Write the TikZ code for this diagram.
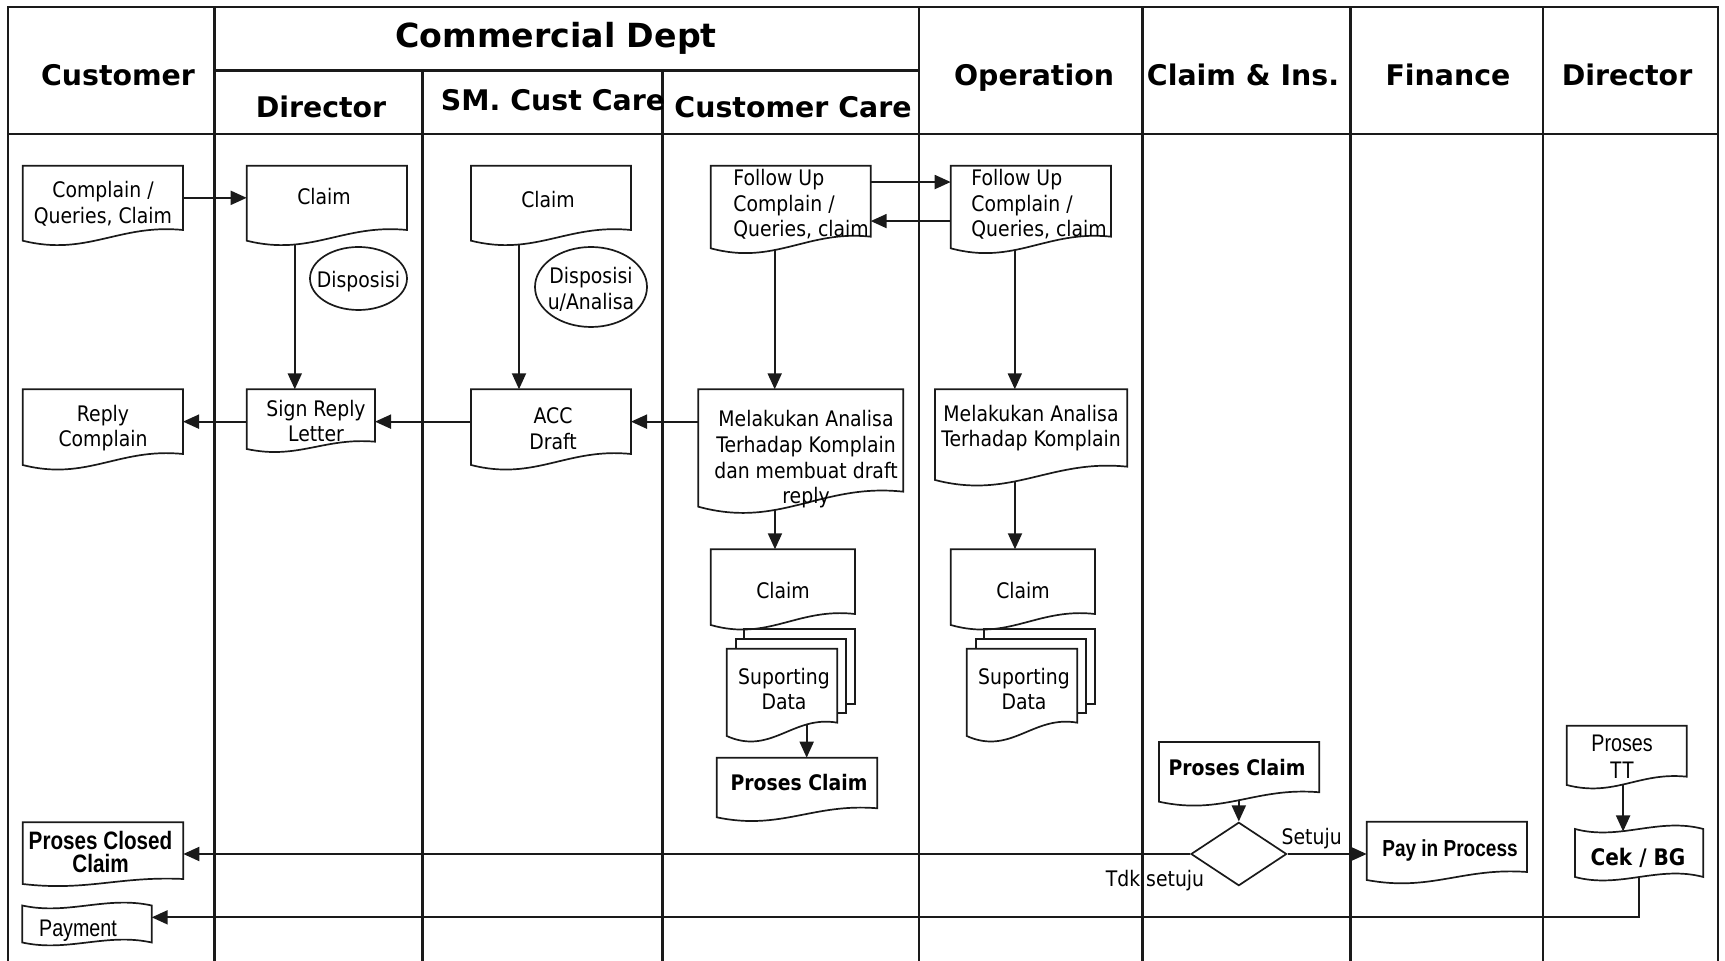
\documentclass[tikz,border=0pt]{standalone}
\usepackage{fontspec}
\setmainfont{DejaVu Sans}[FakeStretch=0.88]
\newfontfamily\headfont{DejaVu Sans}
\newfontfamily\narrowfont{Liberation Sans}[FakeStretch=0.82]
\usetikzlibrary{arrows.meta,calc,fit,shapes.geometric}
\pgfdeclarelayer{lanes}
\pgfdeclarelayer{shapes}
\pgfsetlayers{lanes,shapes,main}

\definecolor{ink}{HTML}{1A1A1A}

\tikzset{
  lane/.style={draw=ink, line width=1.1pt},
  box/.style={inner sep=0pt, outer sep=0pt},
  outline/.style={draw=ink, line width=0.85pt, fill=white},
  sheet/.style={draw=ink, line width=0.85pt},
  flow/.style={draw=ink, line width=0.95pt, -{Triangle[length=8pt,width=7pt]}},
  head/.style={font=\headfont\bfseries\fontsize{14.2}{16}\selectfont, inner sep=0pt, text height=10.4pt, text depth=0pt},
  txt/.style={font=\fontsize{10.7}{12.8}\selectfont, align=center, inner sep=0pt, text=black},
  btxt/.style={font=\bfseries\fontsize{10.7}{12.8}\selectfont, align=center, inner sep=0pt, text=black},
  ntxt/.style={font=\narrowfont\fontsize{12}{13.5}\selectfont, align=center, inner sep=0pt, text=black},
  nbtxt/.style={font=\narrowfont\bfseries\fontsize{12.6}{11.8}\selectfont, align=center, inner sep=0pt, text=black},
  bubble/.style={ellipse, draw=ink, line width=0.85pt, fill=white, inner sep=0pt},
  decision/.style={diamond, draw=ink, line width=0.85pt, fill=white, inner sep=0pt},
}

% document symbol: straight top and sides, wavy bottom (left end lower)
\newcommand\docshape[2]{%
  \draw[outline] (#1.north west) -- (#1.north east) -- (#1.south east)
    .. controls ($(#1.south west)!0.6!(#1.south east)+(0,-0.6*#2)$)
           and ($(#1.south west)!0.4!(#1.south east)+(0,2.5*#2)$)
    .. ($(#1.south west)+(0,#2)$) -- cycle;}

% punched tape symbol: wavy top and bottom
\newcommand\tapeshape[2]{%
  \draw[outline] (#1.north west)
    .. controls ($(#1.north west)!0.35!(#1.north east)+(0,2*#2)$)
           and ($(#1.north west)!0.65!(#1.north east)+(0,-2*#2)$) .. (#1.north east)
    -- (#1.south east)
    .. controls ($(#1.south west)!0.65!(#1.south east)+(0,-2*#2)$)
           and ($(#1.south west)!0.35!(#1.south east)+(0,2*#2)$) .. (#1.south west)
    -- cycle;}

% multi-document symbol: two sheets behind the front document
\newcommand\stackshape[2]{%
  \draw[sheet] ([shift={(17.6,-9.4)}]#1.north west) -- ([shift={(17.6,-19.4)}]#1.north west)
    -- ([shift={(17.7,-19.4)}]#1.north east) -- ([shift={(17.7,-18.7)}]#1.south east)
    -- ([shift={(8.5,-18.7)}]#1.south east);
  \draw[sheet] ([shift={(9,0)}]#1.north west) -- ([shift={(9,-9.4)}]#1.north west)
    -- ([shift={(8.5,-9.4)}]#1.north east) -- ([shift={(8.5,-9.4)}]#1.south east)
    -- ([shift={(0,-9.4)}]#1.south east);
  \docshape{#1}{#2}}

\begin{document}
\begin{tikzpicture}[x=0.5pt, y=-0.5pt]
\useasboundingbox (0,0) rectangle (1725,961);

% ---------- swimlane grid ----------
\begin{pgfonlayer}{lanes}
  \draw[lane] (8,961) -- (8,7) -- (1718,7) -- (1718,961);
  \draw[lane] (8,134) -- (1718,134);
  \draw[lane] (214.5,70.5) -- (919,70.5);
  \foreach \lx in {214.5,919,1142.5,1350.5,1543}
    \draw[lane] (\lx,7) -- (\lx,961);
  \foreach \lx in {422.5,662.5}
    \draw[lane] (\lx,70.5) -- (\lx,961);
\end{pgfonlayer}

% ---------- lane headers ----------
\node[head] (h-cust) at (118,75) {Customer};
\node[head, font=\headfont\bfseries\fontsize{16.6}{18}\selectfont, text height=12.1pt] (h-comm) at (556,35) {Commercial Dept};
\node[head] (h-dir1) at (321,107) {Director};
\node[head] (h-sm) at (553,100) {SM. Cust Care};
\node[head] (h-cc) at (793,107) {Customer Care};
\node[head] (h-op) at (1034,75) {Operation};
\node[head] (h-ci) at (1243,75) {Claim \& Ins.};
\node[head] (h-fin) at (1448,75) {Finance};
\node[head] (h-dir2) at (1627,75) {Director};

% ---------- symbol frames ----------
\node[box, fit={(22.7,165.7) (183,230)}] (cmp) {};
\node[box, fit={(246.7,165.7) (407,230)}] (dclaim) {};
\node[box, fit={(246.7,389.3) (375,441.7)}] (sign) {};
\node[box, fit={(22.7,389.3) (183,454)}] (reply) {};
\node[box, fit={(471,165.7) (631,230)}] (sclaim) {};
\node[box, fit={(471,389.3) (631,454)}] (acc) {};
\node[box, fit={(710.7,165.7) (870.7,236.7)}] (fu1) {};
\node[box, fit={(950.7,165.7) (1111,236.7)}] (fu2) {};
\node[box, fit={(698.3,389.3) (903.3,491.7)}] (mel1) {};
\node[box, fit={(935,389.3) (1127.3,466.7)}] (mel2) {};
\node[box, fit={(710.7,549.3) (855,614)}] (cc1) {};
\node[box, fit={(950.7,549.3) (1095,614)}] (cc2) {};
\node[box, fit={(726.7,648.7) (837.3,722.7)}] (sup1) {};
\node[box, fit={(966.7,648.7) (1077.3,722.7)}] (sup2) {};
\node[box, fit={(716.7,757.7) (877.3,808.3)}] (pc1) {};
\node[box, fit={(1159,742) (1319.3,792.3)}] (pc2) {};
\node[box, fit={(22.7,822.3) (183.3,879)}] (closed) {};
\node[box, fit={(1366.7,821.7) (1527,872)}] (pay) {};
\node[box, fit={(1566.7,725.7) (1686.7,776.7)}] (tt) {};
\node[box, fit={(1575,829) (1703.3,877)}] (cek) {};
\node[box, fit={(22.3,905.5) (151.7,942.5)}] (payment) {};

\node[bubble, minimum width=48.5pt, minimum height=31.5pt] (disp1) at (358.5,278.5) {};
\node[bubble, minimum width=56pt, minimum height=40pt] (disp2) at (591,287) {};
\node[decision, minimum width=47.85pt, minimum height=31.7pt] (dec) at (1238.8,854) {};

% ---------- symbol outlines ----------
\begin{pgfonlayer}{shapes}
  \docshape{cmp}{10.7}
  \docshape{dclaim}{10.7}
  \docshape{sign}{7.3}
  \docshape{reply}{11}
  \docshape{sclaim}{10.7}
  \docshape{acc}{11}
  \docshape{fu1}{11.6}
  \docshape{fu2}{11.6}
  \docshape{mel1}{15}
  \docshape{mel2}{13.3}
  \docshape{cc1}{11}
  \docshape{cc2}{11}
  \stackshape{sup1}{13.3}
  \stackshape{sup2}{13.3}
  \docshape{pc1}{9}
  \docshape{pc2}{9.4}
  \docshape{closed}{5}
  \docshape{pay}{8}
  \docshape{tt}{8.3}
  \tapeshape{cek}{6}
  \tapeshape{payment}{5}
\end{pgfonlayer}

% ---------- symbol texts ----------
\node[txt] (cmp-t) at (103,204) {Complain /\\Queries, Claim};
\node[txt] (dclaim-t) at (324,197) {Claim};
\node[txt] (disp1-t) at (358.5,282) {Disposisi};
\node[txt] (disp2-t) at (591,289.5) {Disposisi\\u/Analisa};
\node[txt] (sign-t) at (316,421) {Sign Reply\\Letter};
\node[txt] (reply-t) at (103,428) {Reply\\Complain};
\node[txt] (sclaim-t) at (548,200) {Claim};
\node[txt] (acc-t) at (553,429) {ACC\\Draft};
\node[txt, align=left, anchor=west] (fu1-t) at (733,204.5) {Follow Up\\Complain /\\Queries, claim};
\node[txt, align=left, anchor=west] (fu2-t) at (971,204.5) {Follow Up\\Complain /\\Queries, claim};
\node[txt] (mel1-t) at (806,459.5) {Melakukan Analisa\\Terhadap Komplain\\dan membuat draft\\reply};
\node[txt] (mel2-t) at (1031,428) {Melakukan Analisa\\Terhadap Komplain};
\node[txt] (cc1-t) at (783,591) {Claim};
\node[txt] (cc2-t) at (1023,591) {Claim};
\node[txt] (sup1-t) at (784,689) {Suporting\\Data};
\node[txt] (sup2-t) at (1024,689) {Suporting\\Data};
\node[btxt] (pc1-t) at (799,783) {Proses Claim};
\node[btxt] (pc2-t) at (1237,768) {Proses Claim};
\node[nbtxt] (closed-t) at (100.5,852) {Proses Closed\\Claim};
\node[nbtxt, font=\narrowfont\bfseries\fontsize{11.6}{13}\selectfont] (pay-t) at (1450,851) {Pay in Process};
\node[ntxt] (tt-t) at (1622,757) {Proses\\TT};
\node[btxt, font=\bfseries\fontsize{11.4}{13}\selectfont] (cek-t) at (1638,858) {Cek / BG};
\node[ntxt] (payment-t) at (78,931) {Payment};
\node[txt] (yes-t) at (1311.7,839) {Setuju};
\node[txt] (no-t) at (1155,881) {Tdk setuju};

% ---------- flow connectors ----------
\begin{pgfonlayer}{lanes}
  \draw[flow] (cmp.east) -- (dclaim.west);
  \draw[flow] ($(dclaim.south west)!0.3!(dclaim.south east)$) coordinate (d1) -- (d1 |- sign.north);
  \draw[flow] (sign.west |- reply.east) -- (reply.east);
  \draw[flow] (acc.west) -- (acc.west -| sign.east);
  \draw[flow] ($(sclaim.south west)!0.3!(sclaim.south east)$) coordinate (s1) -- (s1 |- acc.north);
  \draw[flow] (mel1.west |- acc.east) -- (acc.east);
  \draw[flow] ($(fu1.north east)!0.23!(fu1.south east)$) coordinate (f1) -- (f1 -| fu2.west);
  \draw[flow] ($(fu2.north west)!0.78!(fu2.south west)$) coordinate (f2) -- (f2 -| fu1.east);
  \draw[flow] ($(fu1.south west)!0.4!(fu1.south east)$) coordinate (f3) -- (f3 |- mel1.north);
  \draw[flow] ($(fu2.south west)!0.4!(fu2.south east)$) coordinate (f4) -- (f4 |- mel2.north);
  \draw[flow] ($(mel1.south west)!0.374!(mel1.south east)$) coordinate (m1) -- (m1 |- cc1.north);
  \draw[flow] ($(mel2.south west)!0.416!(mel2.south east)$) coordinate (m2) -- (m2 |- cc2.north);
  \draw[flow] ($(sup1.south west)!0.723!(sup1.south east)$) coordinate (p1) -- (p1 |- pc1.north);
  \draw[flow] (pc2.south -| dec.north) -- (dec.north);
  \draw[flow] (dec.east) -- (dec.east -| pay.west);
  \draw[flow] (dec.west) -- (dec.west -| closed.east);
  \draw[flow] ($(tt.south west)!0.47!(tt.south east)$) coordinate (t1) -- ($(t1 |- cek.north)+(0,2.5)$);
  \draw[flow] (cek.south) |- ($(payment.north east)!0.32!(payment.south east)$);
\end{pgfonlayer}
\end{tikzpicture}
\end{document}
